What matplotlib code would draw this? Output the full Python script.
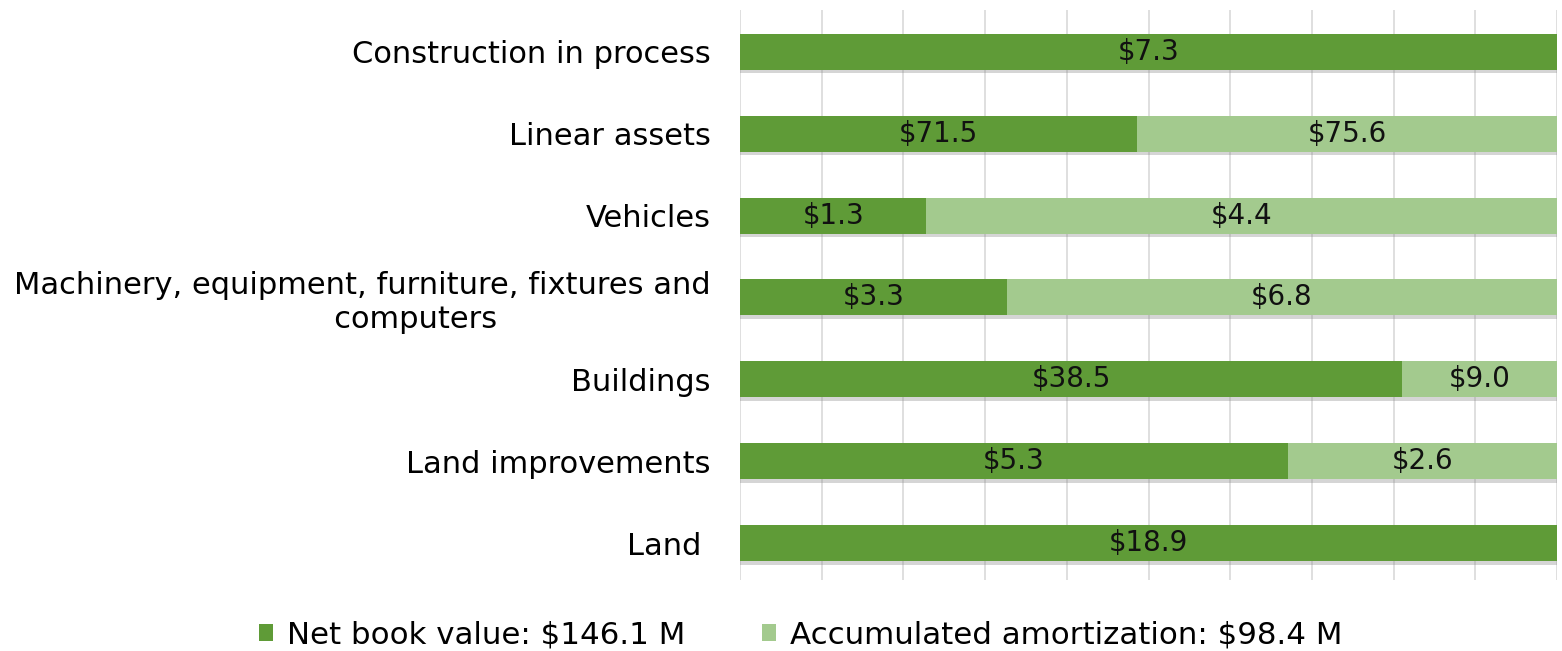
import matplotlib
matplotlib.use("Agg")
import matplotlib.pyplot as plt
import matplotlib.patheffects as pe
from matplotlib.patches import Patch
import numpy as np

categories = ["Land ", "Land improvements", "Buildings",
              "Machinery, equipment, furniture, fixtures and\n           computers",
              "Vehicles", "Linear assets", "Construction in process"]
net_book = [18.9, 5.3, 38.5, 3.3, 1.3, 71.5, 7.3]
amortization = [0.0, 2.6, 9.0, 6.8, 4.4, 75.6, 0.0]
legend_labels = ["Net book value: $146.1 M", "Accumulated amortization: $98.4 M"]

dark = "#5f9b37"
light = "#a3ca8e"

fig = plt.figure(figsize=(15.62, 6.51), dpi=100)
ax = fig.add_axes([740/1562, 1-580/651, 817/1562, 570/651])

nb = np.array(net_book)
am = np.array(amortization)
tot = nb + am
p1 = nb / tot * 100
p2 = am / tot * 100
y = np.arange(len(categories))
h = 0.44

shadow = [pe.SimplePatchShadow(offset=(0, -2.5), shadow_rgbFace="#888888", alpha=0.35), pe.Normal()]
b1 = ax.barh(y, p1, height=h, color=dark, zorder=3)
b2 = ax.barh(y, p2, left=p1, height=h, color=light, zorder=3)
for bar in list(b1) + list(b2):
    bar.set_path_effects(shadow)

for i in range(len(categories)):
    if nb[i] > 0:
        ax.text(p1[i]/2, y[i], f"${nb[i]:.1f}", ha="center", va="center",
                fontsize=20, color="#111111", zorder=4)
    if am[i] > 0:
        ax.text(p1[i] + p2[i]/2, y[i], f"${am[i]:.1f}", ha="center", va="center",
                fontsize=20, color="#111111", zorder=4)

ax.set_xlim(0, 100)
ax.set_ylim(-0.45, 6.51)
ax.set_xticks(np.arange(0, 101, 10))
ax.set_xticklabels([])
ax.tick_params(axis="x", length=0)
ax.grid(axis="x", color="#d9d9d9", linewidth=1.2, zorder=0)
ax.set_yticks(y)
ax.set_yticklabels(categories, fontsize=22, multialignment="center")
ax.tick_params(axis="y", length=0, pad=21)
for s in ax.spines.values():
    s.set_visible(False)

handles = [Patch(facecolor=dark), Patch(facecolor=light)]
fig.legend(handles, legend_labels, loc="center", bbox_to_anchor=(801/1562, 1-635/651),
           ncol=2, frameon=False, fontsize=22.2, handlelength=0.45, handleheight=0.45,
           handletextpad=0.45, columnspacing=2.5)

fig.savefig("out.png", dpi=100)
